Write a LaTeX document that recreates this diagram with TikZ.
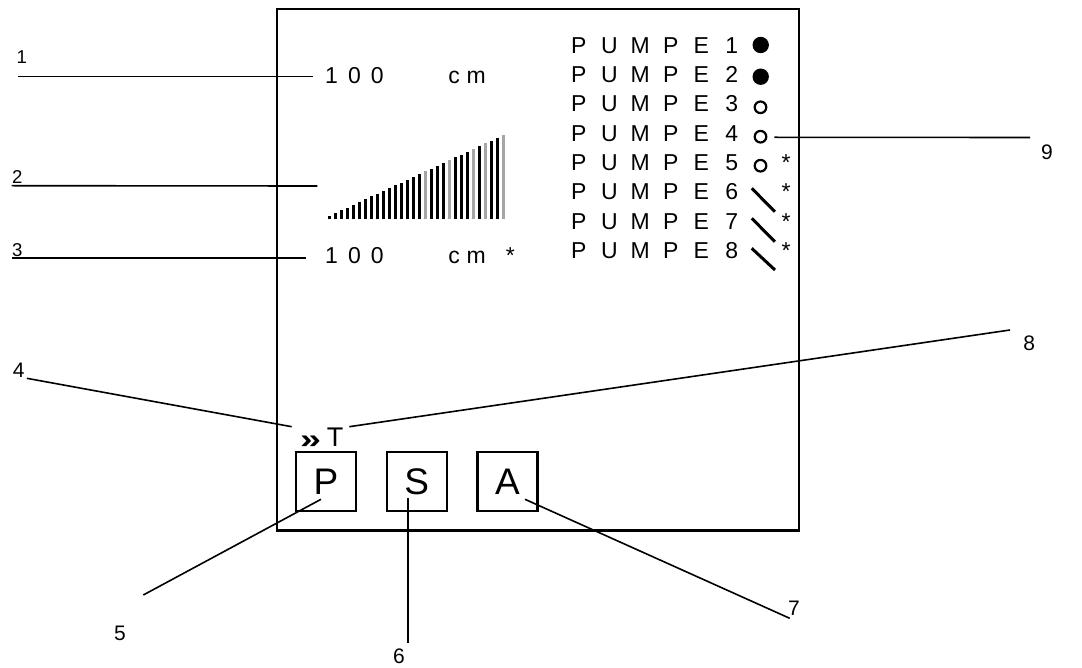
\documentclass[tikz,border=0pt]{standalone}
\usepackage{fontspec}
\setmainfont{Liberation Sans}
\newlength\cellw
\def\cellloop#1{\ifx#1\relax\else\makebox[\cellw]{#1}\expandafter\cellloop\fi}
\newcommand\cells[2]{\setlength\cellw{#1}\cellloop#2\relax}
\tikzset{
  frame/.style={line width=2.6pt},
  keybox/.style={draw, line width=2.4pt, minimum width=60pt, minimum height=59pt, inner sep=0pt, font=\fontsize{37}{40}\selectfont},
  leader/.style={line width=1.6pt},
  lbl/.style={inner sep=0pt, font=\fontsize{21}{24}\selectfont},
  lblsmall/.style={inner sep=0pt, font=\fontsize{18.6}{22}\selectfont},
  disp/.style={inner sep=0pt, anchor=base west, font=\fontsize{23}{26}\selectfont},
  star/.style={inner sep=0pt, anchor=base, font=\fontsize{23}{26}\selectfont},
  onlamp/.style={fill=black},
  offlamp/.style={line width=2.2pt},
  slash/.style={line width=3pt},
  bar/.style={line width=2.6pt}
}
\begin{document}
\begin{tikzpicture}[x=1pt,y=-1pt]
\useasboundingbox (0,0) rectangle (1082,668);
% display frame
\draw[frame] (277,9) rectangle (799,530.7);
% readings
\node[disp] (r1a) at (320,83.3) {\cells{22.8pt}{100}};
\node[disp] (r1b) at (443,83.3) {\cells{22pt}{cm}};
\node[disp] (r3a) at (320,263.3) {\cells{22.8pt}{100}};
\node[disp] (r3b) at (443,263.3) {\cells{22pt}{cm}};
\node[star] (r3s) at (510.3,263.3) {*};
% bar graph
\foreach \i in {0,...,29}{
  \pgfmathsetmacro\bx{329.3+6*\i}
  \pgfmathsetmacro\bt{216-2.79*\i}
  \draw[bar] (\bx,219.3) -- (\bx,\bt);
}
\foreach \i in {16,20,24,26,29}{
  \pgfmathsetmacro\bx{329.3+6*\i}
  \pgfmathsetmacro\bt{216-2.79*\i}
  \draw[bar, gray!70] (\bx,219.3) -- (\bx,\bt);
}
\coordinate (bars) at (317.3,186);
% pump list
\foreach \k in {1,...,8}{
  \pgfmathsetmacro\by{53.3+29.29*(\k-1)}
  \node[disp] (p\k) at (563.4,\by) {\cells{30.6pt}{PUMPE\k}};
}
\fill[onlamp] (760.7,45) circle (8.2pt);
\fill[onlamp] (760.7,76.7) circle (8.2pt);
\draw[offlamp] (760.5,107.3) circle (5.8pt);
\draw[offlamp] (760.5,136.7) circle (5.8pt);
\draw[offlamp] (760.5,165.7) circle (5.8pt);
\draw[slash] (751.7,188.3) -- (775,211.7);
\draw[slash] (751.7,218.3) -- (775,241.7);
\draw[slash] (751.7,248.3) -- (775,270);
\node[star] (s5) at (786,170.5) {*};
\node[star] (s6) at (786,199.8) {*};
\node[star] (s7) at (786,229.1) {*};
\node[star] (s8) at (786,258.3) {*};
% trend mark and T
\node[inner sep=0pt, anchor=base] (chev) at (310.5,448.5) {\scalebox{1.45}[1.05]{\fontsize{26}{28}\selectfont\bfseries »}};
\node[inner sep=0pt, anchor=base, font=\fontsize{27}{30}\selectfont] (tt) at (335,446) {T};
% keys
\node[keybox] (kp) at (326,481.5) {P};
\node[keybox] (ks) at (416.7,481.5) {S};
\node[keybox] (ka) at (507.5,481.5) {A};
% labels
\node[lblsmall] (l1) at (21.7,56.7) {1};
\node[lblsmall] (l2) at (17.3,176.7) {2};
\node[lblsmall] (l3) at (17.3,250) {3};
\node[lbl] (l4) at (18.6,370) {4};
\node[lbl] (l5) at (120,633.3) {5};
\node[lbl] (l6) at (399,656.7) {6};
\node[lbl] (l7) at (794,608.3) {7};
\node[lbl] (l8) at (1029.3,343.3) {8};
\node[lbl] (l9) at (1047,152) {9};
% leader end points
\coordinate (e1a) at (18.3,76.7);   \coordinate (e1b) at (312.7,76.7);
\coordinate (e2a) at (11.7,185.7);
\coordinate (e3a) at (11.7,258.3);  \coordinate (e3b) at (305.8,258.3);
\coordinate (e4a) at (26.8,378.3);  \coordinate (e4b) at (291.7,426.7);
\coordinate (e8a) at (349.3,426.7); \coordinate (e8b) at (1010,330);
\coordinate (e5a) at (321,499.3);   \coordinate (e5b) at (143.3,595);
\coordinate (e6a) at (408,498.3);   \coordinate (e6b) at (408,643.3);
\coordinate (e7a) at (525,499.3);   \coordinate (e7b) at (789.7,618.3);
\coordinate (e9a) at (774.3,137.3); \coordinate (e9b) at (1030,137.5);
\draw[leader] (e1a) -- (e1b);
\draw[leader] (e2a) -- (bars);
\draw[leader] (e3a) -- (e3b);
\draw[leader] (e4a) -- (e4b);
\draw[leader] (e8a) -- (e8b);
\draw[leader] (e5a) -- (e5b);
\draw[leader] (e6a) -- (e6b);
\draw[leader] (e7a) -- (e7b);
\draw[leader] (e9a) -- (e9b);
\end{tikzpicture}
\end{document}
